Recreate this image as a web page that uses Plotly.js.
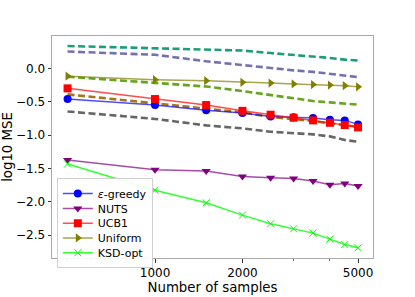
<!DOCTYPE html>
<html>
<head>
<meta charset="utf-8">
<script src="https://cdn.plot.ly/plotly-3.0.1.min.js"></script>
<style>html,body{margin:0;padding:0;background:#fff;}#chart{width:415px;height:297px;}</style>
</head>
<body>
<div id="chart"></div>
<script>
const samples = [500, 1000, 1500, 2000, 2500, 3000, 3500, 4000, 4500, 5000];

const epsGreedy = [-0.46, -0.55, -0.627, -0.67, -0.72, -0.733, -0.743, -0.77, -0.78, -0.84];
const nuts      = [-1.375, -1.52, -1.54, -1.62, -1.64, -1.65, -1.69, -1.745, -1.725, -1.764];
const ucb1      = [-0.30, -0.46, -0.55, -0.637, -0.695, -0.74, -0.78, -0.816, -0.85, -0.885];
const uniform   = [-0.117, -0.17, -0.185, -0.21, -0.22, -0.233, -0.243, -0.25, -0.26, -0.277];
const ksdOpt    = [-1.433, -1.827, -2.016, -2.20, -2.33, -2.405, -2.47, -2.56, -2.64, -2.69];

const dashTeal   = [0.335, 0.30, 0.287, 0.267, 0.229, 0.204, 0.175, 0.156, 0.131, 0.117];
const dashPurple = [0.252, 0.204, 0.106, 0.048, 0.0, -0.03, -0.053, -0.078, -0.107, -0.131];
const dashGreen  = [-0.126, -0.219, -0.272, -0.34, -0.40, -0.45, -0.49, -0.51, -0.525, -0.544];
const dashBrown  = [-0.39, -0.525, -0.60, -0.66, -0.73, -0.76, -0.79, -0.826, -0.85, -0.875];
const dashGray   = [-0.646, -0.758, -0.855, -0.90, -0.95, -0.967, -0.99, -1.02, -1.074, -1.10];

const xTickVals = [1000, 2000, 5000];
const xTickText = ['1000', '2000', '5000'];
const xMinorVals = [500, 600, 700, 800, 900, 3000, 4000];
const yTickVals = [0, -0.5, -1.0, -1.5, -2.0, -2.5];

function dashed(y, color) {
  return {x: samples, y: y, mode: 'lines', showlegend: false, hoverinfo: 'skip',
    line: {color: color, width: 2.6, dash: '7px,3.5px'}};
}
function solid(y, name, lineColor, markColor, symbol, size) {
  return {x: samples, y: y, name: name, mode: 'lines+markers',
    line: {color: lineColor, width: 1.5},
    marker: {color: markColor, symbol: symbol, size: size, line: {color: markColor, width: symbol === 'x-thin' ? 1 : 0}}};
}

const traces = [
  dashed(dashTeal, '#1b9e77'),
  dashed(dashPurple, '#7570b3'),
  dashed(dashGreen, '#66a61e'),
  dashed(dashBrown, '#a6761d'),
  dashed(dashGray, '#666666'),
  solid(epsGreedy, '<i>ε</i>-greedy', 'rgba(0,0,255,0.7)', '#0000ff', 'circle', 8),
  solid(nuts, 'NUTS', 'rgba(128,0,128,0.7)', '#800080', 'triangle-down', 8),
  solid(ucb1, 'UCB1', 'rgba(255,0,0,0.7)', '#ff0000', 'square', 8),
  solid(uniform, 'Uniform', 'rgba(128,128,0,0.7)', '#808000', 'triangle-right', 8),
  solid(ksdOpt, 'KSD-opt', 'rgba(0,255,0,0.8)', '#00ff00', 'x-thin', 7)
];

const layout = {
  width: 415, height: 297,
  margin: {l: 52, r: 42, t: 36, b: 33, pad: 0},
  paper_bgcolor: '#fff', plot_bgcolor: '#fff',
  font: {family: 'DejaVu Sans, sans-serif', color: '#000', size: 12},
  showlegend: true,
  legend: {x: 0.015, y: 0.36, xanchor: 'left', yanchor: 'top',
    bgcolor: 'rgba(255,255,255,0.9)', bordercolor: '#d0d0d0', borderwidth: 1,
    font: {size: 11, family: 'DejaVu Sans, sans-serif'}, tracegroupgap: 0, itemwidth: 30},
  xaxis: {type: 'log', range: [2.6454, 3.7504], tickvals: xTickVals, ticktext: xTickText,
    ticks: 'outside', ticklen: 3.5, tickwidth: 0.8, tickcolor: '#000',
    minor: {tickvals: xMinorVals, ticks: 'outside', ticklen: 2, tickwidth: 0.6, tickcolor: '#000', showgrid: false},
    showgrid: false, zeroline: false, showline: true, linecolor: '#aaaaaa', linewidth: 1, mirror: true,
    tickfont: {size: 12}, title: {text: 'Number of samples', font: {size: 13.3}, standoff: 0}},
  yaxis: {range: [-2.843, 0.485], tickvals: yTickVals, tickformat: '.1f',
    ticks: 'outside', ticklen: 3.5, tickwidth: 0.8, tickcolor: '#000',
    showgrid: false, zeroline: false, showline: true, linecolor: '#aaaaaa', linewidth: 1, mirror: true,
    tickfont: {size: 12}, title: {text: 'log10 MSE', font: {size: 13.3}, standoff: 7}}
};

Plotly.newPlot('chart', traces, layout, {displayModeBar: false, staticPlot: true}).then(function (gd) {
  // compact legend row spacing to match the reference's tighter legend
  const leg = gd.querySelector('.legend');
  if (!leg) return;
  const items = Array.from(leg.querySelectorAll('g.traces'));
  if (items.length < 2) return;
  const parse = el => {
    const m = /translate\(\s*([-\d.e]+)[ ,]+([-\d.e]+)\s*\)/.exec(el.getAttribute('transform') || '');
    return m ? [parseFloat(m[1]), parseFloat(m[2])] : null;
  };
  const p0 = parse(items[0]), p1 = parse(items[1]);
  if (!p0 || !p1) return;
  const oldSp = p1[1] - p0[1];
  const sp = 14.8;
  items.forEach((it, i) => {
    const p = parse(it);
    it.setAttribute('transform', 'translate(' + p[0] + ',' + (p0[1] + i * sp) + ')');
  });
  const bg = leg.querySelector('rect.bg');
  if (bg) {
    const h = parseFloat(bg.getAttribute('height'));
    bg.setAttribute('height', h - (items.length - 1) * (oldSp - sp));
  }
});
</script>
</body>
</html>
